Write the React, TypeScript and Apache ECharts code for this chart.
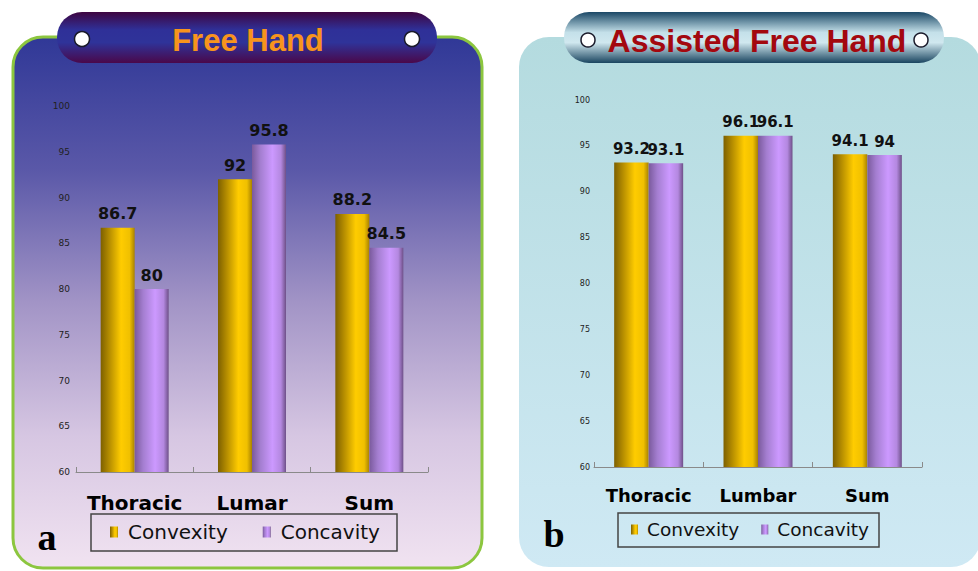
import React, { useEffect, useRef } from "react";
import * as echarts from "echarts";

const leftCategories = ["Thoracic", "Lumar", "Sum"];
const rightCategories = ["Thoracic", "Lumbar", "Sum"];
const freeHandConvexity = [86.7, 92, 88.2];
const freeHandConcavity = [80, 95.8, 84.5];
const assistedConvexity = [93.2, 96.1, 94.1];
const assistedConcavity = [93.1, 96.1, 94];
const seriesNames = ["Convexity", "Concavity"];
const yMin = 60;
const yMax = 100;
const yInterval = 5;

const FONT = "'DejaVu Sans', Verdana, sans-serif";

const hGrad = (stops: [number, string][]) =>
  new echarts.graphic.LinearGradient(
    0, 0, 1, 0,
    stops.map(([offset, color]) => ({ offset, color }))
  );
const vGrad = (stops: [number, string][]) =>
  new echarts.graphic.LinearGradient(
    0, 0, 0, 1,
    stops.map(([offset, color]) => ({ offset, color }))
  );

const yellowBar = () =>
  hGrad([
    [0, "#7d6000"],
    [0.25, "#b48c00"],
    [0.6, "#ffcc00"],
    [0.85, "#f0c000"],
    [1, "#a88200"],
  ]);
const purpleBar = () =>
  hGrad([
    [0, "#7a5a9c"],
    [0.25, "#a47ed0"],
    [0.6, "#cc99ff"],
    [0.85, "#b488e0"],
    [1, "#6e5088"],
  ]);

export default function App() {
  const ref = useRef<HTMLDivElement>(null);

  useEffect(() => {
    if (!ref.current) return;
    const chart = echarts.init(ref.current, undefined, { renderer: "svg" });

    const makeX = (gridIndex: number, data: string[], fontSize: number, margin: number) => ({
      type: "category" as const,
      gridIndex,
      data,
      z: 5,
      axisLine: { show: true, lineStyle: { color: "#8a8a8a", width: 1 } },
      axisTick: { show: true, inside: true, length: 5, lineStyle: { color: "#8a8a8a" } },
      axisLabel: {
        interval: 0,
        fontSize,
        fontWeight: "bold" as const,
        fontFamily: FONT,
        color: "#000",
        margin,
      },
      splitLine: { show: false },
    });
    const makeY = (gridIndex: number, fontSize: number, margin: number) => ({
      type: "value" as const,
      gridIndex,
      min: yMin,
      max: yMax,
      interval: yInterval,
      z: 5,
      axisLine: { show: false },
      axisTick: { show: false },
      splitLine: { show: false },
      axisLabel: { fontSize, fontFamily: FONT, color: "#222", margin },
    });

    const makeBar = (
      name: string,
      data: number[],
      idx: number,
      color: any,
      barWidth: number,
      labelSize: number
    ) => ({
      type: "bar" as const,
      name,
      data,
      xAxisIndex: idx,
      yAxisIndex: idx,
      barWidth,
      barGap: "0%",
      z: 5,
      itemStyle: { color },
      label: {
        show: true,
        position: "top" as const,
        distance: 6,
        fontSize: labelSize,
        fontWeight: "bold" as const,
        fontFamily: FONT,
        color: "#111",
      },
    });

    chart.setOption({
      animation: false,
      graphic: {
        elements: [
          {
            type: "rect",
            z: 0,
            shape: { x: 13, y: 37, width: 469, height: 531, r: 30 },
            style: {
              fill: vGrad([
                [0, "#303897"],
                [0.25, "#5a58a8"],
                [0.5, "#a294c6"],
                [0.75, "#d6c6e2"],
                [1, "#f1e3f1"],
              ]),
              stroke: "#8cc63f",
              lineWidth: 3,
            },
          },
          {
            type: "rect",
            z: 0,
            shape: { x: 519, y: 37, width: 462, height: 530, r: 30 },
            style: {
              fill: vGrad([
                [0, "#b4dbdf"],
                [1, "#cfe9f4"],
              ]),
            },
          },
          {
            type: "rect",
            z: 1,
            shape: { x: 57, y: 12, width: 380, height: 51, r: 25 },
            style: {
              fill: vGrad([
                [0, "#3e0540"],
                [0.35, "#2f3098"],
                [0.6, "#2f3399"],
                [1, "#4a084a"],
              ]),
            },
          },
          {
            type: "rect",
            z: 1,
            shape: { x: 564, y: 12, width: 380, height: 51, r: 25 },
            style: {
              fill: vGrad([
                [0, "#1b4866"],
                [0.4, "#c4e0e9"],
                [0.6, "#d0e8ef"],
                [1, "#1a4560"],
              ]),
            },
          },
          { type: "circle", z: 2, shape: { cx: 82, cy: 39, r: 7.5 }, style: { fill: "#fff", stroke: "#1a1a2a", lineWidth: 1.5 } },
          { type: "circle", z: 2, shape: { cx: 412, cy: 39, r: 7.5 }, style: { fill: "#fff", stroke: "#1a1a2a", lineWidth: 1.5 } },
          { type: "circle", z: 2, shape: { cx: 588, cy: 40, r: 7 }, style: { fill: "#fff", stroke: "#1a1a2a", lineWidth: 1.5 } },
          { type: "circle", z: 2, shape: { cx: 921, cy: 40, r: 7 }, style: { fill: "#fff", stroke: "#1a1a2a", lineWidth: 1.5 } },
          {
            type: "text",
            z: 2,
            style: {
              text: "Free Hand",
              x: 248,
              y: 40,
              textAlign: "center",
              textVerticalAlign: "middle",
              fill: "#f7941d",
              font: "bold 31px 'Liberation Sans', Arial, sans-serif",
            },
          },
          {
            type: "text",
            z: 2,
            style: {
              text: "Assisted Free Hand",
              x: 757,
              y: 41,
              textAlign: "center",
              textVerticalAlign: "middle",
              fill: "#a3080f",
              font: "bold 32px 'Liberation Sans', Arial, sans-serif",
            },
          },
          {
            type: "text",
            z: 2,
            style: {
              text: "a",
              x: 47,
              y: 537,
              textAlign: "center",
              textVerticalAlign: "middle",
              fill: "#000",
              font: "bold 38px 'Liberation Serif', 'Times New Roman', serif",
            },
          },
          {
            type: "text",
            z: 2,
            style: {
              text: "b",
              x: 554,
              y: 534,
              textAlign: "center",
              textVerticalAlign: "middle",
              fill: "#000",
              font: "bold 38px 'Liberation Serif', 'Times New Roman', serif",
            },
          },
          {
            type: "rect",
            z: 2,
            shape: { x: 91, y: 514, width: 306, height: 37 },
            style: { fill: "none", stroke: "#444", lineWidth: 1.5 },
          },
          {
            type: "rect",
            z: 2,
            shape: { x: 618, y: 513, width: 261, height: 34 },
            style: { fill: "none", stroke: "#444", lineWidth: 1.5 },
          },
        ],
      },
      legend: [
        {
          data: seriesNames,
          icon: "rect",
          left: 110,
          top: 522,
          padding: 0,
          itemWidth: 8,
          itemHeight: 11,
          itemGap: 35,
          z: 6,
          textStyle: { fontSize: 20, fontFamily: FONT, color: "#111", padding: [0, 0, 0, 5] },
        },
        {
          data: seriesNames,
          icon: "rect",
          left: 631,
          top: 520,
          padding: 0,
          itemWidth: 7,
          itemHeight: 10,
          itemGap: 22,
          z: 6,
          textStyle: { fontSize: 18.5, fontFamily: FONT, color: "#111", padding: [0, 0, 0, 4] },
        },
      ],
      grid: [
        { left: 76, top: 106, width: 352, height: 366 },
        { left: 594, top: 100, width: 328, height: 367 },
      ],
      xAxis: [makeX(0, leftCategories, 20, 21), makeX(1, rightCategories, 18, 19)],
      yAxis: [makeY(0, 9, 6), makeY(1, 8, 4)],
      series: [
        makeBar(seriesNames[0], freeHandConvexity, 0, yellowBar(), 34, 16),
        makeBar(seriesNames[1], freeHandConcavity, 0, purpleBar(), 34, 16),
        makeBar(seriesNames[0], assistedConvexity, 1, yellowBar(), 34.5, 15),
        makeBar(seriesNames[1], assistedConcavity, 1, purpleBar(), 34.5, 15),
      ],
    });

    return () => chart.dispose();
  }, []);

  return (
    <div
      ref={ref}
      style={{ position: "fixed", left: 0, top: 0, width: 978, height: 571, background: "#fff" }}
    />
  );
}
